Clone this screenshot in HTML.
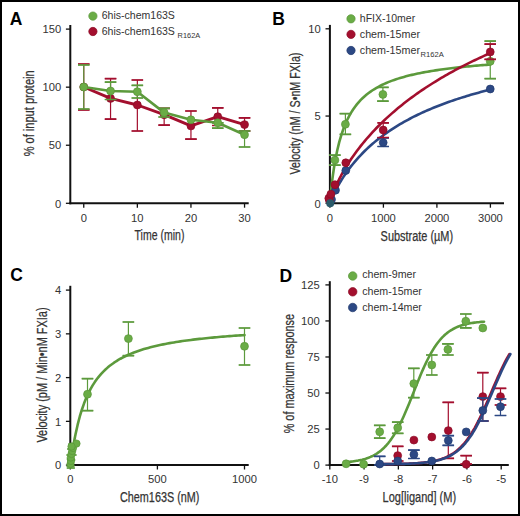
<!DOCTYPE html>
<html><head><meta charset="utf-8"><style>
html,body{margin:0;padding:0;background:#fff;}
svg{display:block;}
text{font-family:"Liberation Sans",sans-serif;}
</style></head><body>
<svg width="520" height="516" viewBox="0 0 520 516">
<rect width="520" height="516" fill="#fff"/>
<rect x="1" y="1" width="518" height="514" fill="none" stroke="#000" stroke-width="2"/>
<text x="9.8" y="25" font-size="17.5" text-anchor="start" fill="#000" font-weight="bold">A</text>
<text x="272.2" y="25" font-size="17.5" text-anchor="start" fill="#000" font-weight="bold">B</text>
<text x="10.2" y="281.2" font-size="17.5" text-anchor="start" fill="#000" font-weight="bold">C</text>
<text x="279.6" y="281.7" font-size="17.5" text-anchor="start" fill="#000" font-weight="bold">D</text>
<path d="M70.30 25.00L70.30 204.30" stroke="#111" stroke-width="2" fill="none"/>
<path d="M69.30 203.30L248.70 203.30" stroke="#111" stroke-width="2" fill="none"/>
<path d="M65.90 29.11L70.30 29.11" stroke="#111" stroke-width="1.3" fill="none"/>
<text x="61.2" y="33.30500000000002" font-size="11.8" text-anchor="end" fill="#333333" font-weight="normal" textLength="18.70" lengthAdjust="spacingAndGlyphs">150</text>
<path d="M65.90 87.17L70.30 87.17" stroke="#111" stroke-width="1.3" fill="none"/>
<text x="61.2" y="91.37000000000002" font-size="11.8" text-anchor="end" fill="#333333" font-weight="normal" textLength="18.70" lengthAdjust="spacingAndGlyphs">100</text>
<path d="M65.90 145.24L70.30 145.24" stroke="#111" stroke-width="1.3" fill="none"/>
<text x="61.2" y="149.435" font-size="11.8" text-anchor="end" fill="#333333" font-weight="normal" textLength="12.47" lengthAdjust="spacingAndGlyphs">50</text>
<path d="M65.90 203.30L70.30 203.30" stroke="#111" stroke-width="1.3" fill="none"/>
<text x="61.2" y="207.5" font-size="11.8" text-anchor="end" fill="#333333" font-weight="normal" textLength="6.23" lengthAdjust="spacingAndGlyphs">0</text>
<path d="M83.75 203.30L83.75 207.70" stroke="#111" stroke-width="1.3" fill="none"/>
<text x="83.75" y="221.60000000000002" font-size="11.8" text-anchor="middle" fill="#333333" font-weight="normal" textLength="6.23" lengthAdjust="spacingAndGlyphs">0</text>
<path d="M137.35 203.30L137.35 207.70" stroke="#111" stroke-width="1.3" fill="none"/>
<text x="137.35" y="221.60000000000002" font-size="11.8" text-anchor="middle" fill="#333333" font-weight="normal" textLength="12.47" lengthAdjust="spacingAndGlyphs">10</text>
<path d="M190.95 203.30L190.95 207.70" stroke="#111" stroke-width="1.3" fill="none"/>
<text x="190.95" y="221.60000000000002" font-size="11.8" text-anchor="middle" fill="#333333" font-weight="normal" textLength="12.47" lengthAdjust="spacingAndGlyphs">20</text>
<path d="M244.55 203.30L244.55 207.70" stroke="#111" stroke-width="1.3" fill="none"/>
<text x="244.55" y="221.60000000000002" font-size="11.8" text-anchor="middle" fill="#333333" font-weight="normal" textLength="12.47" lengthAdjust="spacingAndGlyphs">30</text>
<text x="134.6" y="240.1" font-size="13.8" text-anchor="start" fill="#333333" font-weight="normal" textLength="49.80" lengthAdjust="spacingAndGlyphs" stroke="#333" stroke-width="0.25">Time (min)</text>
<text x="34.2" y="156.3" font-size="13.8" text-anchor="start" fill="#333333" font-weight="normal" textLength="86.00" lengthAdjust="spacingAndGlyphs" transform="rotate(-90 34.2 156.3)" stroke="#333" stroke-width="0.25">% of input protein</text>
<circle cx="92.90" cy="16.10" r="4.15" fill="#6aac46" stroke="#5a9639" stroke-width="0.7"/>
<circle cx="92.90" cy="31.50" r="4.15" fill="#a30f2e" stroke="#8c0b26" stroke-width="0.7"/>
<text x="101.7" y="19.0" font-size="10.4" text-anchor="start" fill="#333333" font-weight="normal" textLength="73.20" lengthAdjust="spacingAndGlyphs">6his-chem163S</text>
<text x="101.7" y="35" font-size="10.4" text-anchor="start" fill="#333333" font-weight="normal" textLength="73.20" lengthAdjust="spacingAndGlyphs">6his-chem163S</text>
<text x="177.6" y="38.0" font-size="7.3" text-anchor="start" fill="#333333" font-weight="normal" textLength="22.60" lengthAdjust="spacingAndGlyphs">R162A</text>
<path d="M83.75 87.00 L110.55 98.40 L137.35 105.00 L164.15 114.70 L190.95 125.90 L217.75 116.70 L244.55 124.60" stroke="#a30f2e" stroke-width="2.9" fill="none" stroke-linejoin="round" stroke-linecap="round"/>
<path d="M83.75 64.00V110.00M78.00 64.00H89.50M78.00 110.00H89.50" stroke="#a30f2e" stroke-width="1.2" fill="none"/>
<path d="M78.00 64.00H89.50M78.00 110.00H89.50" stroke="#a30f2e" stroke-width="1.7" fill="none"/>
<circle cx="83.75" cy="87.00" r="3.95" fill="#a30f2e" stroke="#8c0b26" stroke-width="0.7"/>
<path d="M110.55 78.70V119.20M104.80 78.70H116.30M104.80 119.20H116.30" stroke="#a30f2e" stroke-width="1.2" fill="none"/>
<path d="M104.80 78.70H116.30M104.80 119.20H116.30" stroke="#a30f2e" stroke-width="1.7" fill="none"/>
<circle cx="110.55" cy="98.40" r="3.95" fill="#a30f2e" stroke="#8c0b26" stroke-width="0.7"/>
<path d="M137.35 80.00V131.00M131.60 80.00H143.10M131.60 131.00H143.10" stroke="#a30f2e" stroke-width="1.2" fill="none"/>
<path d="M131.60 80.00H143.10M131.60 131.00H143.10" stroke="#a30f2e" stroke-width="1.7" fill="none"/>
<circle cx="137.35" cy="105.00" r="3.95" fill="#a30f2e" stroke="#8c0b26" stroke-width="0.7"/>
<path d="M164.15 108.30V125.20M158.40 108.30H169.90M158.40 125.20H169.90" stroke="#a30f2e" stroke-width="1.2" fill="none"/>
<path d="M158.40 108.30H169.90M158.40 125.20H169.90" stroke="#a30f2e" stroke-width="1.7" fill="none"/>
<circle cx="164.15" cy="114.70" r="3.95" fill="#a30f2e" stroke="#8c0b26" stroke-width="0.7"/>
<path d="M190.95 111.00V139.10M185.20 111.00H196.70M185.20 139.10H196.70" stroke="#a30f2e" stroke-width="1.2" fill="none"/>
<path d="M185.20 111.00H196.70M185.20 139.10H196.70" stroke="#a30f2e" stroke-width="1.7" fill="none"/>
<circle cx="190.95" cy="125.90" r="3.95" fill="#a30f2e" stroke="#8c0b26" stroke-width="0.7"/>
<path d="M217.75 107.90V125.50M212.00 107.90H223.50M212.00 125.50H223.50" stroke="#a30f2e" stroke-width="1.2" fill="none"/>
<path d="M212.00 107.90H223.50M212.00 125.50H223.50" stroke="#a30f2e" stroke-width="1.7" fill="none"/>
<circle cx="217.75" cy="116.70" r="3.95" fill="#a30f2e" stroke="#8c0b26" stroke-width="0.7"/>
<path d="M244.55 117.90V131.00M238.80 117.90H250.30M238.80 131.00H250.30" stroke="#a30f2e" stroke-width="1.2" fill="none"/>
<path d="M238.80 117.90H250.30M238.80 131.00H250.30" stroke="#a30f2e" stroke-width="1.7" fill="none"/>
<circle cx="244.55" cy="124.60" r="3.95" fill="#a30f2e" stroke="#8c0b26" stroke-width="0.7"/>
<path d="M83.75 87.00 L110.55 91.00 L137.35 91.70 L164.15 112.60 L190.95 119.80 L217.75 122.80 L244.55 134.70" stroke="#5c9a3c" stroke-width="2.6" fill="none" stroke-linejoin="round" stroke-linecap="round"/>
<path d="M83.75 65.00V109.00M78.00 65.00H89.50M78.00 109.00H89.50" stroke="#5c9a3c" stroke-width="1.2" fill="none"/>
<path d="M78.00 65.00H89.50M78.00 109.00H89.50" stroke="#5c9a3c" stroke-width="1.7" fill="none"/>
<circle cx="83.75" cy="87.00" r="3.95" fill="#6aac46" stroke="#5a9639" stroke-width="0.7"/>
<path d="M110.55 82.10V99.50M104.80 82.10H116.30M104.80 99.50H116.30" stroke="#5c9a3c" stroke-width="1.2" fill="none"/>
<path d="M104.80 82.10H116.30M104.80 99.50H116.30" stroke="#5c9a3c" stroke-width="1.7" fill="none"/>
<circle cx="110.55" cy="91.00" r="3.95" fill="#6aac46" stroke="#5a9639" stroke-width="0.7"/>
<path d="M137.35 85.40V98.00M131.60 85.40H143.10M131.60 98.00H143.10" stroke="#5c9a3c" stroke-width="1.2" fill="none"/>
<path d="M131.60 85.40H143.10M131.60 98.00H143.10" stroke="#5c9a3c" stroke-width="1.7" fill="none"/>
<circle cx="137.35" cy="91.70" r="3.95" fill="#6aac46" stroke="#5a9639" stroke-width="0.7"/>
<path d="M164.15 108.40V117.00M158.40 108.40H169.90M158.40 117.00H169.90" stroke="#5c9a3c" stroke-width="1.2" fill="none"/>
<path d="M158.40 108.40H169.90M158.40 117.00H169.90" stroke="#5c9a3c" stroke-width="1.7" fill="none"/>
<circle cx="164.15" cy="112.60" r="3.95" fill="#6aac46" stroke="#5a9639" stroke-width="0.7"/>
<circle cx="190.95" cy="119.80" r="3.95" fill="#6aac46" stroke="#5a9639" stroke-width="0.7"/>
<path d="M217.75 122.80V128.20M212.00 122.80H223.50M212.00 128.20H223.50" stroke="#5c9a3c" stroke-width="1.2" fill="none"/>
<path d="M212.00 122.80H223.50M212.00 128.20H223.50" stroke="#5c9a3c" stroke-width="1.7" fill="none"/>
<circle cx="217.75" cy="122.80" r="3.95" fill="#6aac46" stroke="#5a9639" stroke-width="0.7"/>
<path d="M244.55 131.00V147.00M238.80 131.00H250.30M238.80 147.00H250.30" stroke="#5c9a3c" stroke-width="1.2" fill="none"/>
<path d="M238.80 131.00H250.30M238.80 147.00H250.30" stroke="#5c9a3c" stroke-width="1.7" fill="none"/>
<circle cx="244.55" cy="134.70" r="3.95" fill="#6aac46" stroke="#5a9639" stroke-width="0.7"/>
<path d="M329.90 24.90L329.90 204.30" stroke="#111" stroke-width="2" fill="none"/>
<path d="M328.90 203.30L504.00 203.30" stroke="#111" stroke-width="2" fill="none"/>
<path d="M325.50 28.80L329.90 28.80" stroke="#111" stroke-width="1.3" fill="none"/>
<text x="320.8" y="33.000000000000014" font-size="11.8" text-anchor="end" fill="#333333" font-weight="normal" textLength="12.47" lengthAdjust="spacingAndGlyphs">10</text>
<path d="M325.50 116.05L329.90 116.05" stroke="#111" stroke-width="1.3" fill="none"/>
<text x="320.8" y="120.25000000000001" font-size="11.8" text-anchor="end" fill="#333333" font-weight="normal" textLength="6.23" lengthAdjust="spacingAndGlyphs">5</text>
<path d="M325.50 203.30L329.90 203.30" stroke="#111" stroke-width="1.3" fill="none"/>
<text x="320.8" y="207.5" font-size="11.8" text-anchor="end" fill="#333333" font-weight="normal" textLength="6.23" lengthAdjust="spacingAndGlyphs">0</text>
<path d="M329.90 203.30L329.90 207.70" stroke="#111" stroke-width="1.3" fill="none"/>
<text x="329.9" y="221.60000000000002" font-size="11.8" text-anchor="middle" fill="#333333" font-weight="normal" textLength="6.23" lengthAdjust="spacingAndGlyphs">0</text>
<path d="M383.40 203.30L383.40 207.70" stroke="#111" stroke-width="1.3" fill="none"/>
<text x="383.4" y="221.60000000000002" font-size="11.8" text-anchor="middle" fill="#333333" font-weight="normal" textLength="24.94" lengthAdjust="spacingAndGlyphs">1000</text>
<path d="M436.90 203.30L436.90 207.70" stroke="#111" stroke-width="1.3" fill="none"/>
<text x="436.9" y="221.60000000000002" font-size="11.8" text-anchor="middle" fill="#333333" font-weight="normal" textLength="24.94" lengthAdjust="spacingAndGlyphs">2000</text>
<path d="M490.40 203.30L490.40 207.70" stroke="#111" stroke-width="1.3" fill="none"/>
<text x="490.4" y="221.60000000000002" font-size="11.8" text-anchor="middle" fill="#333333" font-weight="normal" textLength="24.94" lengthAdjust="spacingAndGlyphs">3000</text>
<text x="380.6" y="240.6" font-size="13.8" text-anchor="start" fill="#333333" font-weight="normal" textLength="72.50" lengthAdjust="spacingAndGlyphs" stroke="#333" stroke-width="0.25">Substrate (µM)</text>
<text x="300.1" y="174.6" font-size="13.8" text-anchor="start" fill="#333333" font-weight="normal" textLength="122.00" lengthAdjust="spacingAndGlyphs" transform="rotate(-90 300.1 174.6)" stroke="#333" stroke-width="0.25">Velocity (nM / S•nM FXIa)</text>
<circle cx="351.00" cy="18.80" r="4.15" fill="#6aac46" stroke="#5a9639" stroke-width="0.7"/>
<circle cx="351.00" cy="34.40" r="4.15" fill="#a30f2e" stroke="#8c0b26" stroke-width="0.7"/>
<circle cx="351.00" cy="50.50" r="4.15" fill="#2c4884" stroke="#233b6e" stroke-width="0.7"/>
<text x="359.8" y="22.0" font-size="10.6" text-anchor="start" fill="#333333" font-weight="normal" textLength="55.40" lengthAdjust="spacingAndGlyphs">hFIX-10mer</text>
<text x="359.8" y="38.0" font-size="10.6" text-anchor="start" fill="#333333" font-weight="normal" textLength="60.20" lengthAdjust="spacingAndGlyphs">chem-15mer</text>
<text x="359.8" y="53.9" font-size="10.6" text-anchor="start" fill="#333333" font-weight="normal" textLength="60.20" lengthAdjust="spacingAndGlyphs">chem-15mer</text>
<text x="420.6" y="56.5" font-size="7.4" text-anchor="start" fill="#333333" font-weight="normal" textLength="23.20" lengthAdjust="spacingAndGlyphs">R162A</text>
<path d="M329.90 203.30 L330.08 202.68 L330.27 202.14 L330.45 201.63 L330.64 201.14 L330.82 200.66 L331.01 200.19 L331.19 199.73 L331.38 199.28 L331.56 198.84 L331.74 198.40 L331.93 197.97 L332.11 197.54 L332.30 197.12 L332.48 196.71 L332.67 196.30 L332.85 195.89 L333.04 195.49 L333.22 195.09 L333.41 194.70 L333.59 194.31 L333.77 193.92 L333.96 193.54 L334.14 193.16 L334.33 192.78 L334.51 192.40 L334.70 192.03 L334.88 191.66 L335.07 191.30 L335.25 190.94 L335.25 190.94 L337.21 187.22 L339.18 183.75 L341.14 180.48 L343.11 177.39 L345.07 174.45 L347.03 171.64 L349.00 168.97 L350.96 166.40 L352.93 163.95 L354.89 161.59 L356.85 159.32 L358.82 157.13 L360.78 155.03 L362.74 153.00 L364.71 151.03 L366.67 149.13 L368.64 147.30 L370.60 145.52 L372.56 143.80 L374.53 142.13 L376.49 140.51 L378.46 138.94 L380.42 137.41 L382.38 135.92 L384.35 134.48 L386.31 133.07 L388.28 131.70 L390.24 130.37 L392.20 129.08 L394.17 127.81 L396.13 126.58 L398.10 125.37 L400.06 124.20 L402.02 123.05 L403.99 121.93 L405.95 120.84 L407.92 119.77 L409.88 118.73 L411.84 117.71 L413.81 116.71 L415.77 115.73 L417.73 114.77 L419.70 113.84 L421.66 112.92 L423.63 112.02 L425.59 111.14 L427.55 110.28 L429.52 109.44 L431.48 108.61 L433.45 107.80 L435.41 107.00 L437.37 106.22 L439.34 105.45 L441.30 104.70 L443.27 103.96 L445.23 103.23 L447.19 102.52 L449.16 101.82 L451.12 101.13 L453.09 100.46 L455.05 99.79 L457.01 99.14 L458.98 98.50 L460.94 97.87 L462.91 97.25 L464.87 96.64 L466.83 96.04 L468.80 95.45 L470.76 94.87 L472.72 94.30 L474.69 93.73 L476.65 93.18 L478.62 92.63 L480.58 92.10 L482.54 91.57 L484.51 91.05 L486.47 90.53 L488.44 90.03 L490.40 89.53" stroke="#2c4884" stroke-width="2.6" fill="none" stroke-linejoin="round" stroke-linecap="round"/>
<path d="M329.90 203.30 L330.08 200.97 L330.27 198.84 L330.45 196.81 L330.64 194.86 L330.82 192.98 L331.01 191.16 L331.19 189.41 L331.38 187.70 L331.56 186.04 L331.74 184.44 L331.93 182.87 L332.11 181.35 L332.30 179.87 L332.48 178.42 L332.67 177.01 L332.85 175.64 L333.04 174.29 L333.22 172.98 L333.41 171.70 L333.59 170.45 L333.77 169.23 L333.96 168.04 L334.14 166.87 L334.33 165.72 L334.51 164.60 L334.70 163.51 L334.88 162.43 L335.07 161.38 L335.25 160.35 L335.25 160.35 L337.21 150.53 L339.18 142.41 L341.14 135.57 L343.11 129.72 L345.07 124.66 L347.03 120.23 L349.00 116.32 L350.96 112.84 L352.93 109.73 L354.89 106.92 L356.85 104.38 L358.82 102.07 L360.78 99.95 L362.74 98.01 L364.71 96.22 L366.67 94.56 L368.64 93.03 L370.60 91.60 L372.56 90.27 L374.53 89.03 L376.49 87.86 L378.46 86.77 L380.42 85.74 L382.38 84.77 L384.35 83.85 L386.31 82.98 L388.28 82.16 L390.24 81.38 L392.20 80.65 L394.17 79.94 L396.13 79.27 L398.10 78.63 L400.06 78.02 L402.02 77.44 L403.99 76.88 L405.95 76.35 L407.92 75.84 L409.88 75.35 L411.84 74.87 L413.81 74.42 L415.77 73.99 L417.73 73.57 L419.70 73.16 L421.66 72.77 L423.63 72.40 L425.59 72.04 L427.55 71.69 L429.52 71.35 L431.48 71.02 L433.45 70.70 L435.41 70.40 L437.37 70.10 L439.34 69.81 L441.30 69.53 L443.27 69.26 L445.23 69.00 L447.19 68.75 L449.16 68.50 L451.12 68.26 L453.09 68.02 L455.05 67.80 L457.01 67.58 L458.98 67.36 L460.94 67.15 L462.91 66.95 L464.87 66.75 L466.83 66.55 L468.80 66.36 L470.76 66.18 L472.72 66.00 L474.69 65.82 L476.65 65.65 L478.62 65.49 L480.58 65.32 L482.54 65.16 L484.51 65.01 L486.47 64.85 L488.44 64.70 L490.40 64.56" stroke="#5c9a3c" stroke-width="2.6" fill="none" stroke-linejoin="round" stroke-linecap="round"/>
<path d="M329.90 203.30 L330.08 202.22 L330.27 201.41 L330.45 200.69 L330.64 200.01 L330.82 199.36 L331.01 198.74 L331.19 198.15 L331.38 197.57 L331.56 197.00 L331.74 196.45 L331.93 195.91 L332.11 195.39 L332.30 194.87 L332.48 194.36 L332.67 193.86 L332.85 193.37 L333.04 192.88 L333.22 192.41 L333.41 191.93 L333.59 191.47 L333.77 191.01 L333.96 190.55 L334.14 190.10 L334.33 189.66 L334.51 189.22 L334.70 188.78 L334.88 188.35 L335.07 187.92 L335.25 187.50 L335.25 187.50 L337.21 183.20 L339.18 179.22 L341.14 175.48 L343.11 171.95 L345.07 168.58 L347.03 165.37 L349.00 162.29 L350.96 159.32 L352.93 156.46 L354.89 153.70 L356.85 151.02 L358.82 148.43 L360.78 145.91 L362.74 143.47 L364.71 141.09 L366.67 138.77 L368.64 136.52 L370.60 134.32 L372.56 132.17 L374.53 130.07 L376.49 128.02 L378.46 126.02 L380.42 124.06 L382.38 122.14 L384.35 120.26 L386.31 118.42 L388.28 116.61 L390.24 114.84 L392.20 113.11 L394.17 111.40 L396.13 109.73 L398.10 108.09 L400.06 106.48 L402.02 104.89 L403.99 103.34 L405.95 101.81 L407.92 100.30 L409.88 98.82 L411.84 97.36 L413.81 95.93 L415.77 94.52 L417.73 93.13 L419.70 91.76 L421.66 90.42 L423.63 89.09 L425.59 87.79 L427.55 86.50 L429.52 85.23 L431.48 83.98 L433.45 82.74 L435.41 81.53 L437.37 80.33 L439.34 79.14 L441.30 77.98 L443.27 76.82 L445.23 75.69 L447.19 74.57 L449.16 73.46 L451.12 72.37 L453.09 71.29 L455.05 70.22 L457.01 69.17 L458.98 68.13 L460.94 67.10 L462.91 66.09 L464.87 65.08 L466.83 64.09 L468.80 63.11 L470.76 62.15 L472.72 61.19 L474.69 60.24 L476.65 59.31 L478.62 58.39 L480.58 57.47 L482.54 56.57 L484.51 55.67 L486.47 54.79 L488.44 53.92 L490.40 53.05" stroke="#a30f2e" stroke-width="2.6" fill="none" stroke-linejoin="round" stroke-linecap="round"/>
<circle cx="331.50" cy="199.50" r="3.95" fill="#2c4884" stroke="#233b6e" stroke-width="0.7"/>
<circle cx="335.50" cy="190.20" r="3.95" fill="#2c4884" stroke="#233b6e" stroke-width="0.7"/>
<circle cx="345.80" cy="170.50" r="3.95" fill="#2c4884" stroke="#233b6e" stroke-width="0.7"/>
<path d="M383.20 137.80V146.50M377.45 137.80H388.95M377.45 146.50H388.95" stroke="#2c4884" stroke-width="1.2" fill="none"/>
<path d="M377.45 137.80H388.95M377.45 146.50H388.95" stroke="#2c4884" stroke-width="1.7" fill="none"/>
<circle cx="383.20" cy="142.60" r="3.95" fill="#2c4884" stroke="#233b6e" stroke-width="0.7"/>
<circle cx="490.25" cy="89.00" r="3.95" fill="#2c4884" stroke="#233b6e" stroke-width="0.7"/>
<path d="M334.90 155.20V165.10M329.15 155.20H340.65M329.15 165.10H340.65" stroke="#5c9a3c" stroke-width="1.2" fill="none"/>
<path d="M329.15 155.20H340.65M329.15 165.10H340.65" stroke="#5c9a3c" stroke-width="1.7" fill="none"/>
<circle cx="334.90" cy="160.10" r="3.95" fill="#6aac46" stroke="#5a9639" stroke-width="0.7"/>
<path d="M345.40 113.60V134.30M339.65 113.60H351.15M339.65 134.30H351.15" stroke="#5c9a3c" stroke-width="1.2" fill="none"/>
<path d="M339.65 113.60H351.15M339.65 134.30H351.15" stroke="#5c9a3c" stroke-width="1.7" fill="none"/>
<circle cx="345.40" cy="124.30" r="3.95" fill="#6aac46" stroke="#5a9639" stroke-width="0.7"/>
<path d="M382.90 87.40V101.20M377.15 87.40H388.65M377.15 101.20H388.65" stroke="#5c9a3c" stroke-width="1.2" fill="none"/>
<path d="M377.15 87.40H388.65M377.15 101.20H388.65" stroke="#5c9a3c" stroke-width="1.7" fill="none"/>
<circle cx="382.90" cy="94.40" r="3.95" fill="#6aac46" stroke="#5a9639" stroke-width="0.7"/>
<path d="M490.25 41.20V78.60M484.50 41.20H496.00M484.50 78.60H496.00" stroke="#5c9a3c" stroke-width="1.2" fill="none"/>
<path d="M484.50 41.20H496.00M484.50 78.60H496.00" stroke="#5c9a3c" stroke-width="1.7" fill="none"/>
<circle cx="490.25" cy="61.30" r="3.95" fill="#6aac46" stroke="#5a9639" stroke-width="0.7"/>
<circle cx="329.50" cy="200.50" r="3.95" fill="#a30f2e" stroke="#8c0b26" stroke-width="0.7"/>
<circle cx="328.80" cy="198.30" r="3.95" fill="#a30f2e" stroke="#8c0b26" stroke-width="0.7"/>
<circle cx="330.90" cy="194.20" r="3.95" fill="#a30f2e" stroke="#8c0b26" stroke-width="0.7"/>
<circle cx="335.00" cy="184.70" r="3.95" fill="#a30f2e" stroke="#8c0b26" stroke-width="0.7"/>
<circle cx="345.80" cy="162.80" r="3.95" fill="#a30f2e" stroke="#8c0b26" stroke-width="0.7"/>
<path d="M383.20 122.80V137.50M377.45 122.80H388.95M377.45 137.50H388.95" stroke="#a30f2e" stroke-width="1.2" fill="none"/>
<path d="M377.45 122.80H388.95M377.45 137.50H388.95" stroke="#a30f2e" stroke-width="1.7" fill="none"/>
<circle cx="383.20" cy="130.00" r="3.95" fill="#a30f2e" stroke="#8c0b26" stroke-width="0.7"/>
<path d="M490.25 44.20V59.40M484.50 44.20H496.00M484.50 59.40H496.00" stroke="#a30f2e" stroke-width="1.2" fill="none"/>
<path d="M484.50 44.20H496.00M484.50 59.40H496.00" stroke="#a30f2e" stroke-width="1.7" fill="none"/>
<circle cx="490.25" cy="51.90" r="3.95" fill="#a30f2e" stroke="#8c0b26" stroke-width="0.7"/>
<circle cx="330.20" cy="203.30" r="4.0" fill="#2a5a6a"/>
<path d="M70.30 285.80L70.30 466.10" stroke="#111" stroke-width="2" fill="none"/>
<path d="M69.30 465.10L248.70 465.10" stroke="#111" stroke-width="2" fill="none"/>
<path d="M65.90 290.10L70.30 290.10" stroke="#111" stroke-width="1.3" fill="none"/>
<text x="61.3" y="294.3" font-size="11.8" text-anchor="end" fill="#333333" font-weight="normal" textLength="6.23" lengthAdjust="spacingAndGlyphs">4</text>
<path d="M65.90 333.85L70.30 333.85" stroke="#111" stroke-width="1.3" fill="none"/>
<text x="61.3" y="338.05" font-size="11.8" text-anchor="end" fill="#333333" font-weight="normal" textLength="6.23" lengthAdjust="spacingAndGlyphs">3</text>
<path d="M65.90 377.60L70.30 377.60" stroke="#111" stroke-width="1.3" fill="none"/>
<text x="61.3" y="381.8" font-size="11.8" text-anchor="end" fill="#333333" font-weight="normal" textLength="6.23" lengthAdjust="spacingAndGlyphs">2</text>
<path d="M65.90 421.35L70.30 421.35" stroke="#111" stroke-width="1.3" fill="none"/>
<text x="61.3" y="425.55" font-size="11.8" text-anchor="end" fill="#333333" font-weight="normal" textLength="6.23" lengthAdjust="spacingAndGlyphs">1</text>
<path d="M65.90 465.10L70.30 465.10" stroke="#111" stroke-width="1.3" fill="none"/>
<text x="61.3" y="469.3" font-size="11.8" text-anchor="end" fill="#333333" font-weight="normal" textLength="6.23" lengthAdjust="spacingAndGlyphs">0</text>
<path d="M70.30 465.10L70.30 469.50" stroke="#111" stroke-width="1.3" fill="none"/>
<text x="70.3" y="483.40000000000003" font-size="11.8" text-anchor="middle" fill="#333333" font-weight="normal" textLength="6.23" lengthAdjust="spacingAndGlyphs">0</text>
<path d="M157.40 465.10L157.40 469.50" stroke="#111" stroke-width="1.3" fill="none"/>
<text x="157.39999999999998" y="483.40000000000003" font-size="11.8" text-anchor="middle" fill="#333333" font-weight="normal" textLength="18.70" lengthAdjust="spacingAndGlyphs">500</text>
<path d="M244.50 465.10L244.50 469.50" stroke="#111" stroke-width="1.3" fill="none"/>
<text x="244.5" y="483.40000000000003" font-size="11.8" text-anchor="middle" fill="#333333" font-weight="normal" textLength="24.94" lengthAdjust="spacingAndGlyphs">1000</text>
<text x="120" y="502.2" font-size="13.8" text-anchor="start" fill="#333333" font-weight="normal" textLength="79.40" lengthAdjust="spacingAndGlyphs" stroke="#333" stroke-width="0.25">Chem163S (nM)</text>
<text x="46.8" y="442.6" font-size="13.8" text-anchor="start" fill="#333333" font-weight="normal" textLength="135.20" lengthAdjust="spacingAndGlyphs" transform="rotate(-90 46.8 442.6)" stroke="#333" stroke-width="0.25">Velocity (pM / Min•nM FXIa)</text>
<path d="M70.30 465.10 L70.48 463.98 L70.66 462.79 L70.84 461.59 L71.02 460.38 L71.20 459.18 L71.38 457.99 L71.56 456.81 L71.74 455.64 L71.92 454.49 L72.10 453.34 L72.28 452.21 L72.46 451.10 L72.64 450.00 L72.82 448.91 L73.00 447.83 L73.18 446.78 L73.36 445.73 L73.54 444.70 L73.72 443.69 L73.90 442.69 L74.08 441.70 L74.26 440.72 L74.44 439.76 L74.62 438.82 L74.81 437.88 L74.99 436.96 L75.17 436.05 L75.35 435.16 L75.53 434.28 L75.53 434.28 L77.66 424.68 L79.80 416.49 L81.94 409.45 L84.08 403.34 L86.22 398.00 L88.36 393.30 L90.50 389.13 L92.64 385.41 L94.78 382.08 L96.92 379.07 L99.05 376.34 L101.19 373.86 L103.33 371.59 L105.47 369.52 L107.61 367.60 L109.75 365.84 L111.89 364.21 L114.03 362.69 L116.17 361.28 L118.30 359.96 L120.44 358.73 L122.58 357.58 L124.72 356.50 L126.86 355.48 L129.00 354.52 L131.14 353.62 L133.28 352.76 L135.42 351.95 L137.55 351.19 L139.69 350.46 L141.83 349.77 L143.97 349.11 L146.11 348.48 L148.25 347.89 L150.39 347.32 L152.53 346.77 L154.67 346.25 L156.80 345.75 L158.94 345.27 L161.08 344.81 L163.22 344.37 L165.36 343.95 L167.50 343.54 L169.64 343.15 L171.78 342.77 L173.92 342.41 L176.05 342.06 L178.19 341.72 L180.33 341.40 L182.47 341.08 L184.61 340.78 L186.75 340.48 L188.89 340.20 L191.03 339.92 L193.17 339.66 L195.31 339.40 L197.44 339.15 L199.58 338.90 L201.72 338.67 L203.86 338.44 L206.00 338.22 L208.14 338.00 L210.28 337.79 L212.42 337.59 L214.56 337.39 L216.69 337.19 L218.83 337.01 L220.97 336.82 L223.11 336.65 L225.25 336.47 L227.39 336.30 L229.53 336.14 L231.67 335.98 L233.81 335.82 L235.94 335.67 L238.08 335.52 L240.22 335.37 L242.36 335.23 L244.50 335.09" stroke="#5c9a3c" stroke-width="2.6" fill="none" stroke-linejoin="round" stroke-linecap="round"/>
<path d="M70.50 455.00V466.00M66.50 455.00H74.50M66.50 466.00H74.50" stroke="#5c9a3c" stroke-width="1.2" fill="none"/>
<path d="M66.50 455.00H74.50M66.50 466.00H74.50" stroke="#5c9a3c" stroke-width="1.7" fill="none"/>
<path d="M71.20 449.00V460.00M67.20 449.00H75.20M67.20 460.00H75.20" stroke="#5c9a3c" stroke-width="1.2" fill="none"/>
<path d="M67.20 449.00H75.20M67.20 460.00H75.20" stroke="#5c9a3c" stroke-width="1.7" fill="none"/>
<path d="M72.50 444.00V455.00M68.50 444.00H76.50M68.50 455.00H76.50" stroke="#5c9a3c" stroke-width="1.2" fill="none"/>
<path d="M68.50 444.00H76.50M68.50 455.00H76.50" stroke="#5c9a3c" stroke-width="1.7" fill="none"/>
<path d="M70.80 459.00V468.00M66.80 459.00H74.80M66.80 468.00H74.80" stroke="#5c9a3c" stroke-width="1.2" fill="none"/>
<path d="M66.80 459.00H74.80M66.80 468.00H74.80" stroke="#5c9a3c" stroke-width="1.7" fill="none"/>
<circle cx="70.50" cy="464.00" r="3.65" fill="#6aac46" stroke="#5a9639" stroke-width="0.7"/>
<circle cx="71.00" cy="461.00" r="3.65" fill="#6aac46" stroke="#5a9639" stroke-width="0.7"/>
<circle cx="70.80" cy="457.50" r="3.65" fill="#6aac46" stroke="#5a9639" stroke-width="0.7"/>
<circle cx="71.50" cy="454.00" r="3.65" fill="#6aac46" stroke="#5a9639" stroke-width="0.7"/>
<circle cx="72.20" cy="451.00" r="3.65" fill="#6aac46" stroke="#5a9639" stroke-width="0.7"/>
<circle cx="73.00" cy="448.00" r="3.65" fill="#6aac46" stroke="#5a9639" stroke-width="0.7"/>
<circle cx="76.50" cy="443.60" r="3.65" fill="#6aac46" stroke="#5a9639" stroke-width="0.7"/>
<circle cx="71.50" cy="446.50" r="3.65" fill="#6aac46" stroke="#5a9639" stroke-width="0.7"/>
<path d="M87.50 378.70V410.70M81.75 378.70H93.25M81.75 410.70H93.25" stroke="#5c9a3c" stroke-width="1.2" fill="none"/>
<path d="M81.75 378.70H93.25M81.75 410.70H93.25" stroke="#5c9a3c" stroke-width="1.7" fill="none"/>
<circle cx="87.50" cy="394.20" r="3.95" fill="#6aac46" stroke="#5a9639" stroke-width="0.7"/>
<path d="M128.40 322.00V355.60M122.65 322.00H134.15M122.65 355.60H134.15" stroke="#5c9a3c" stroke-width="1.2" fill="none"/>
<path d="M122.65 322.00H134.15M122.65 355.60H134.15" stroke="#5c9a3c" stroke-width="1.7" fill="none"/>
<circle cx="128.40" cy="338.60" r="3.95" fill="#6aac46" stroke="#5a9639" stroke-width="0.7"/>
<path d="M244.50 328.00V365.00M238.75 328.00H250.25M238.75 365.00H250.25" stroke="#5c9a3c" stroke-width="1.2" fill="none"/>
<path d="M238.75 328.00H250.25M238.75 365.00H250.25" stroke="#5c9a3c" stroke-width="1.7" fill="none"/>
<circle cx="244.50" cy="346.30" r="3.95" fill="#6aac46" stroke="#5a9639" stroke-width="0.7"/>
<path d="M329.80 281.20L329.80 466.10" stroke="#111" stroke-width="2" fill="none"/>
<path d="M328.80 465.10L508.80 465.10" stroke="#111" stroke-width="2" fill="none"/>
<path d="M325.40 284.90L329.80 284.90" stroke="#111" stroke-width="1.3" fill="none"/>
<text x="319.8" y="289.1" font-size="11.8" text-anchor="end" fill="#333333" font-weight="normal" textLength="18.70" lengthAdjust="spacingAndGlyphs">125</text>
<path d="M325.40 320.94L329.80 320.94" stroke="#111" stroke-width="1.3" fill="none"/>
<text x="319.8" y="325.14000000000004" font-size="11.8" text-anchor="end" fill="#333333" font-weight="normal" textLength="18.70" lengthAdjust="spacingAndGlyphs">100</text>
<path d="M325.40 356.98L329.80 356.98" stroke="#111" stroke-width="1.3" fill="none"/>
<text x="319.8" y="361.18" font-size="11.8" text-anchor="end" fill="#333333" font-weight="normal" textLength="12.47" lengthAdjust="spacingAndGlyphs">75</text>
<path d="M325.40 393.02L329.80 393.02" stroke="#111" stroke-width="1.3" fill="none"/>
<text x="319.8" y="397.22" font-size="11.8" text-anchor="end" fill="#333333" font-weight="normal" textLength="12.47" lengthAdjust="spacingAndGlyphs">50</text>
<path d="M325.40 429.06L329.80 429.06" stroke="#111" stroke-width="1.3" fill="none"/>
<text x="319.8" y="433.26" font-size="11.8" text-anchor="end" fill="#333333" font-weight="normal" textLength="12.47" lengthAdjust="spacingAndGlyphs">25</text>
<path d="M325.40 465.10L329.80 465.10" stroke="#111" stroke-width="1.3" fill="none"/>
<text x="319.8" y="469.3" font-size="11.8" text-anchor="end" fill="#333333" font-weight="normal" textLength="6.23" lengthAdjust="spacingAndGlyphs">0</text>
<path d="M329.80 465.10L329.80 469.50" stroke="#111" stroke-width="1.3" fill="none"/>
<text x="329.8" y="483.40000000000003" font-size="11.8" text-anchor="middle" fill="#333333" font-weight="normal" textLength="16.20" lengthAdjust="spacingAndGlyphs">-10</text>
<path d="M364.08 465.10L364.08 469.50" stroke="#111" stroke-width="1.3" fill="none"/>
<text x="364.08000000000004" y="483.40000000000003" font-size="11.8" text-anchor="middle" fill="#333333" font-weight="normal" textLength="9.97" lengthAdjust="spacingAndGlyphs">-9</text>
<path d="M398.36 465.10L398.36 469.50" stroke="#111" stroke-width="1.3" fill="none"/>
<text x="398.36" y="483.40000000000003" font-size="11.8" text-anchor="middle" fill="#333333" font-weight="normal" textLength="9.97" lengthAdjust="spacingAndGlyphs">-8</text>
<path d="M432.64 465.10L432.64 469.50" stroke="#111" stroke-width="1.3" fill="none"/>
<text x="432.64" y="483.40000000000003" font-size="11.8" text-anchor="middle" fill="#333333" font-weight="normal" textLength="9.97" lengthAdjust="spacingAndGlyphs">-7</text>
<path d="M466.92 465.10L466.92 469.50" stroke="#111" stroke-width="1.3" fill="none"/>
<text x="466.92" y="483.40000000000003" font-size="11.8" text-anchor="middle" fill="#333333" font-weight="normal" textLength="9.97" lengthAdjust="spacingAndGlyphs">-6</text>
<path d="M501.20 465.10L501.20 469.50" stroke="#111" stroke-width="1.3" fill="none"/>
<text x="501.20000000000005" y="483.40000000000003" font-size="11.8" text-anchor="middle" fill="#333333" font-weight="normal" textLength="9.97" lengthAdjust="spacingAndGlyphs">-5</text>
<text x="382.6" y="502.0" font-size="13.8" text-anchor="start" fill="#333333" font-weight="normal" textLength="73.50" lengthAdjust="spacingAndGlyphs" stroke="#333" stroke-width="0.25">Log[ligand] (M)</text>
<text x="294.3" y="433.3" font-size="13.8" text-anchor="start" fill="#333333" font-weight="normal" textLength="119.30" lengthAdjust="spacingAndGlyphs" transform="rotate(-90 294.3 433.3)" stroke="#333" stroke-width="0.25">% of maximum response</text>
<circle cx="352.70" cy="276.00" r="4.25" fill="#6aac46" stroke="#5a9639" stroke-width="0.7"/>
<circle cx="352.70" cy="291.80" r="4.25" fill="#a30f2e" stroke="#8c0b26" stroke-width="0.7"/>
<circle cx="352.70" cy="307.50" r="4.25" fill="#2c4884" stroke="#233b6e" stroke-width="0.7"/>
<text x="362.2" y="278.2" font-size="10.6" text-anchor="start" fill="#333333" font-weight="normal" textLength="53.90" lengthAdjust="spacingAndGlyphs">chem-9mer</text>
<text x="362.2" y="294.6" font-size="10.6" text-anchor="start" fill="#333333" font-weight="normal" textLength="59.70" lengthAdjust="spacingAndGlyphs">chem-15mer</text>
<text x="362.2" y="310.9" font-size="10.6" text-anchor="start" fill="#333333" font-weight="normal" textLength="59.70" lengthAdjust="spacingAndGlyphs">chem-14mer</text>
<path d="M346.94 462.06 L348.33 461.93 L349.71 461.79 L351.10 461.64 L352.48 461.47 L353.87 461.28 L355.25 461.07 L356.64 460.84 L358.02 460.60 L359.41 460.32 L360.79 460.02 L362.18 459.69 L363.56 459.33 L364.95 458.93 L366.33 458.49 L367.72 458.01 L369.10 457.49 L370.49 456.92 L371.87 456.29 L373.26 455.60 L374.64 454.86 L376.03 454.04 L377.41 453.16 L378.80 452.19 L380.18 451.15 L381.57 450.01 L382.95 448.78 L384.34 447.45 L385.72 446.01 L387.11 444.47 L388.49 442.81 L389.88 441.03 L391.26 439.12 L392.65 437.09 L394.03 434.93 L395.42 432.63 L396.80 430.21 L398.19 427.65 L399.57 424.97 L400.96 422.16 L402.34 419.24 L403.73 416.20 L405.11 413.06 L406.50 409.83 L407.88 406.51 L409.27 403.14 L410.65 399.71 L412.04 396.24 L413.42 392.75 L414.81 389.26 L416.19 385.78 L417.58 382.34 L418.96 378.93 L420.35 375.59 L421.73 372.32 L423.12 369.14 L424.50 366.06 L425.89 363.09 L427.27 360.23 L428.66 357.50 L430.04 354.89 L431.43 352.41 L432.81 350.06 L434.20 347.84 L435.58 345.76 L436.97 343.80 L438.35 341.97 L439.74 340.26 L441.12 338.66 L442.51 337.18 L443.89 335.81 L445.28 334.54 L446.66 333.37 L448.05 332.28 L449.43 331.28 L450.82 330.37 L452.20 329.52 L453.59 328.75 L454.97 328.04 L456.36 327.39 L457.74 326.79 L459.13 326.25 L460.51 325.75 L461.90 325.30 L463.28 324.88 L464.67 324.51 L466.05 324.16 L467.44 323.85 L468.82 323.56 L470.21 323.31 L471.59 323.07 L472.98 322.85 L474.36 322.66 L475.75 322.48 L477.13 322.32 L478.52 322.17 L479.90 322.04 L481.29 321.92 L482.67 321.81 L484.06 321.71" stroke="#5c9a3c" stroke-width="2.6" fill="none" stroke-linejoin="round" stroke-linecap="round"/>
<circle cx="346.10" cy="463.80" r="3.95" fill="#6aac46" stroke="#5a9639" stroke-width="0.7"/>
<circle cx="363.60" cy="464.20" r="3.95" fill="#6aac46" stroke="#5a9639" stroke-width="0.7"/>
<path d="M379.70 425.30V438.20M373.95 425.30H385.45M373.95 438.20H385.45" stroke="#5c9a3c" stroke-width="1.2" fill="none"/>
<path d="M373.95 425.30H385.45M373.95 438.20H385.45" stroke="#5c9a3c" stroke-width="1.7" fill="none"/>
<circle cx="379.70" cy="431.80" r="3.95" fill="#6aac46" stroke="#5a9639" stroke-width="0.7"/>
<path d="M397.70 422.20V433.30M391.95 422.20H403.45M391.95 433.30H403.45" stroke="#5c9a3c" stroke-width="1.2" fill="none"/>
<path d="M391.95 422.20H403.45M391.95 433.30H403.45" stroke="#5c9a3c" stroke-width="1.7" fill="none"/>
<circle cx="397.70" cy="427.80" r="3.95" fill="#6aac46" stroke="#5a9639" stroke-width="0.7"/>
<path d="M413.80 368.30V397.70M408.05 368.30H419.55M408.05 397.70H419.55" stroke="#5c9a3c" stroke-width="1.2" fill="none"/>
<path d="M408.05 368.30H419.55M408.05 397.70H419.55" stroke="#5c9a3c" stroke-width="1.7" fill="none"/>
<circle cx="413.80" cy="383.60" r="3.95" fill="#6aac46" stroke="#5a9639" stroke-width="0.7"/>
<path d="M431.80 355.00V375.00M426.05 355.00H437.55M426.05 375.00H437.55" stroke="#5c9a3c" stroke-width="1.2" fill="none"/>
<path d="M426.05 355.00H437.55M426.05 375.00H437.55" stroke="#5c9a3c" stroke-width="1.7" fill="none"/>
<circle cx="431.80" cy="364.90" r="3.95" fill="#6aac46" stroke="#5a9639" stroke-width="0.7"/>
<path d="M447.90 343.80V355.00M442.15 343.80H453.65M442.15 355.00H453.65" stroke="#5c9a3c" stroke-width="1.2" fill="none"/>
<path d="M442.15 343.80H453.65M442.15 355.00H453.65" stroke="#5c9a3c" stroke-width="1.7" fill="none"/>
<circle cx="447.90" cy="349.40" r="3.95" fill="#6aac46" stroke="#5a9639" stroke-width="0.7"/>
<path d="M465.80 314.00V327.80M460.05 314.00H471.55M460.05 327.80H471.55" stroke="#5c9a3c" stroke-width="1.2" fill="none"/>
<path d="M460.05 314.00H471.55M460.05 327.80H471.55" stroke="#5c9a3c" stroke-width="1.7" fill="none"/>
<circle cx="465.80" cy="321.20" r="3.95" fill="#6aac46" stroke="#5a9639" stroke-width="0.7"/>
<circle cx="482.80" cy="328.00" r="3.95" fill="#6aac46" stroke="#5a9639" stroke-width="0.7"/>
<path d="M380.52 464.19 L381.97 464.18 L383.42 464.17 L384.86 464.16 L386.31 464.15 L387.76 464.13 L389.21 464.11 L390.66 464.10 L392.11 464.08 L393.55 464.06 L395.00 464.03 L396.45 464.01 L397.90 463.98 L399.35 463.95 L400.80 463.91 L402.24 463.87 L403.69 463.83 L405.14 463.79 L406.59 463.74 L408.04 463.68 L409.48 463.62 L410.93 463.56 L412.38 463.48 L413.83 463.40 L415.28 463.31 L416.73 463.22 L418.17 463.11 L419.62 462.99 L421.07 462.87 L422.52 462.72 L423.97 462.57 L425.42 462.40 L426.86 462.22 L428.31 462.01 L429.76 461.79 L431.21 461.54 L432.66 461.27 L434.10 460.98 L435.55 460.66 L437.00 460.31 L438.45 459.92 L439.90 459.50 L441.35 459.04 L442.79 458.54 L444.24 457.99 L445.69 457.39 L447.14 456.74 L448.59 456.03 L450.04 455.25 L451.48 454.42 L452.93 453.51 L454.38 452.52 L455.83 451.45 L457.28 450.29 L458.72 449.05 L460.17 447.70 L461.62 446.26 L463.07 444.70 L464.52 443.04 L465.97 441.26 L467.41 439.36 L468.86 437.34 L470.31 435.20 L471.76 432.93 L473.21 430.54 L474.66 428.03 L476.10 425.39 L477.55 422.64 L479.00 419.78 L480.45 416.81 L481.90 413.74 L483.34 410.59 L484.79 407.36 L486.24 404.06 L487.69 400.72 L489.14 397.34 L490.59 393.93 L492.03 390.52 L493.48 387.12 L494.93 383.75 L496.38 380.41 L497.83 377.13 L499.28 373.91 L500.72 370.77 L502.17 367.73 L503.62 364.77 L505.07 361.93 L506.52 359.20 L507.96 356.59 L509.41 354.09" stroke="#a30f2e" stroke-width="2.6" fill="none" stroke-linejoin="round" stroke-linecap="round"/>
<path d="M397.70 446.40V461.00M391.95 446.40H403.45M391.95 461.00H403.45" stroke="#a30f2e" stroke-width="1.2" fill="none"/>
<path d="M391.95 446.40H403.45M391.95 461.00H403.45" stroke="#a30f2e" stroke-width="1.7" fill="none"/>
<circle cx="397.70" cy="455.60" r="3.95" fill="#a30f2e" stroke="#8c0b26" stroke-width="0.7"/>
<circle cx="413.90" cy="440.10" r="3.95" fill="#a30f2e" stroke="#8c0b26" stroke-width="0.7"/>
<circle cx="431.80" cy="437.00" r="3.95" fill="#a30f2e" stroke="#8c0b26" stroke-width="0.7"/>
<path d="M448.30 402.40V458.30M442.55 402.40H454.05M442.55 458.30H454.05" stroke="#a30f2e" stroke-width="1.2" fill="none"/>
<path d="M442.55 402.40H454.05M442.55 458.30H454.05" stroke="#a30f2e" stroke-width="1.7" fill="none"/>
<circle cx="448.30" cy="430.60" r="3.95" fill="#a30f2e" stroke="#8c0b26" stroke-width="0.7"/>
<path d="M466.20 455.70V464.00M460.45 455.70H471.95M460.45 464.00H471.95" stroke="#a30f2e" stroke-width="1.2" fill="none"/>
<path d="M460.45 455.70H471.95M460.45 464.00H471.95" stroke="#a30f2e" stroke-width="1.7" fill="none"/>
<circle cx="466.20" cy="464.30" r="3.95" fill="#a30f2e" stroke="#8c0b26" stroke-width="0.7"/>
<path d="M482.80 372.70V421.00M477.05 372.70H488.55M477.05 421.00H488.55" stroke="#a30f2e" stroke-width="1.2" fill="none"/>
<path d="M477.05 372.70H488.55M477.05 421.00H488.55" stroke="#a30f2e" stroke-width="1.7" fill="none"/>
<circle cx="482.80" cy="396.60" r="3.95" fill="#a30f2e" stroke="#8c0b26" stroke-width="0.7"/>
<path d="M500.50 388.30V405.00M494.75 388.30H506.25M494.75 405.00H506.25" stroke="#a30f2e" stroke-width="1.2" fill="none"/>
<path d="M494.75 388.30H506.25M494.75 405.00H506.25" stroke="#a30f2e" stroke-width="1.7" fill="none"/>
<circle cx="500.50" cy="396.60" r="3.95" fill="#a30f2e" stroke="#8c0b26" stroke-width="0.7"/>
<path d="M381.52 464.19 L382.97 464.18 L384.42 464.17 L385.86 464.16 L387.31 464.15 L388.76 464.13 L390.21 464.11 L391.66 464.10 L393.11 464.08 L394.55 464.06 L396.00 464.03 L397.45 464.01 L398.90 463.98 L400.35 463.95 L401.80 463.91 L403.24 463.87 L404.69 463.83 L406.14 463.79 L407.59 463.74 L409.04 463.68 L410.48 463.62 L411.93 463.56 L413.38 463.48 L414.83 463.40 L416.28 463.31 L417.73 463.22 L419.17 463.11 L420.62 462.99 L422.07 462.87 L423.52 462.72 L424.97 462.57 L426.42 462.40 L427.86 462.22 L429.31 462.01 L430.76 461.79 L432.21 461.54 L433.66 461.27 L435.10 460.98 L436.55 460.66 L438.00 460.31 L439.45 459.92 L440.90 459.50 L442.35 459.04 L443.79 458.54 L445.24 457.99 L446.69 457.39 L448.14 456.74 L449.59 456.03 L451.04 455.25 L452.48 454.42 L453.93 453.51 L455.38 452.52 L456.83 451.45 L458.28 450.29 L459.72 449.05 L461.17 447.70 L462.62 446.26 L464.07 444.70 L465.52 443.04 L466.97 441.26 L468.41 439.36 L469.86 437.34 L471.31 435.20 L472.76 432.93 L474.21 430.54 L475.66 428.03 L477.10 425.39 L478.55 422.64 L480.00 419.78 L481.45 416.81 L482.90 413.74 L484.34 410.59 L485.79 407.36 L487.24 404.06 L488.69 400.72 L490.14 397.34 L491.59 393.93 L493.03 390.52 L494.48 387.12 L495.93 383.75 L497.38 380.41 L498.83 377.13 L500.28 373.91 L501.72 370.77 L503.17 367.73 L504.62 364.77 L506.07 361.93 L507.52 359.20 L508.96 356.59 L510.41 354.09" stroke="#2c4884" stroke-width="2.6" fill="none" stroke-linejoin="round" stroke-linecap="round"/>
<path d="M379.70 456.40V465.00M373.95 456.40H385.45M373.95 465.00H385.45" stroke="#2c4884" stroke-width="1.2" fill="none"/>
<path d="M373.95 456.40H385.45M373.95 465.00H385.45" stroke="#2c4884" stroke-width="1.7" fill="none"/>
<circle cx="379.70" cy="464.00" r="3.95" fill="#2c4884" stroke="#233b6e" stroke-width="0.7"/>
<circle cx="397.70" cy="461.00" r="3.95" fill="#2c4884" stroke="#233b6e" stroke-width="0.7"/>
<path d="M413.90 450.20V458.50M408.15 450.20H419.65M408.15 458.50H419.65" stroke="#2c4884" stroke-width="1.2" fill="none"/>
<path d="M408.15 450.20H419.65M408.15 458.50H419.65" stroke="#2c4884" stroke-width="1.7" fill="none"/>
<circle cx="413.90" cy="454.40" r="3.95" fill="#2c4884" stroke="#233b6e" stroke-width="0.7"/>
<circle cx="431.80" cy="461.00" r="3.95" fill="#2c4884" stroke="#233b6e" stroke-width="0.7"/>
<path d="M448.30 435.60V445.30M442.55 435.60H454.05M442.55 445.30H454.05" stroke="#2c4884" stroke-width="1.2" fill="none"/>
<path d="M442.55 435.60H454.05M442.55 445.30H454.05" stroke="#2c4884" stroke-width="1.7" fill="none"/>
<circle cx="448.30" cy="440.50" r="3.95" fill="#2c4884" stroke="#233b6e" stroke-width="0.7"/>
<circle cx="466.20" cy="431.90" r="3.95" fill="#2c4884" stroke="#233b6e" stroke-width="0.7"/>
<path d="M482.80 398.20V421.00M477.05 398.20H488.55M477.05 421.00H488.55" stroke="#2c4884" stroke-width="1.2" fill="none"/>
<path d="M477.05 398.20H488.55M477.05 421.00H488.55" stroke="#2c4884" stroke-width="1.7" fill="none"/>
<circle cx="482.80" cy="410.50" r="3.95" fill="#2c4884" stroke="#233b6e" stroke-width="0.7"/>
<path d="M500.50 399.00V415.50M494.75 399.00H506.25M494.75 415.50H506.25" stroke="#2c4884" stroke-width="1.2" fill="none"/>
<path d="M494.75 399.00H506.25M494.75 415.50H506.25" stroke="#2c4884" stroke-width="1.7" fill="none"/>
<circle cx="500.50" cy="406.70" r="3.95" fill="#2c4884" stroke="#233b6e" stroke-width="0.7"/>
</svg>
</body></html>
